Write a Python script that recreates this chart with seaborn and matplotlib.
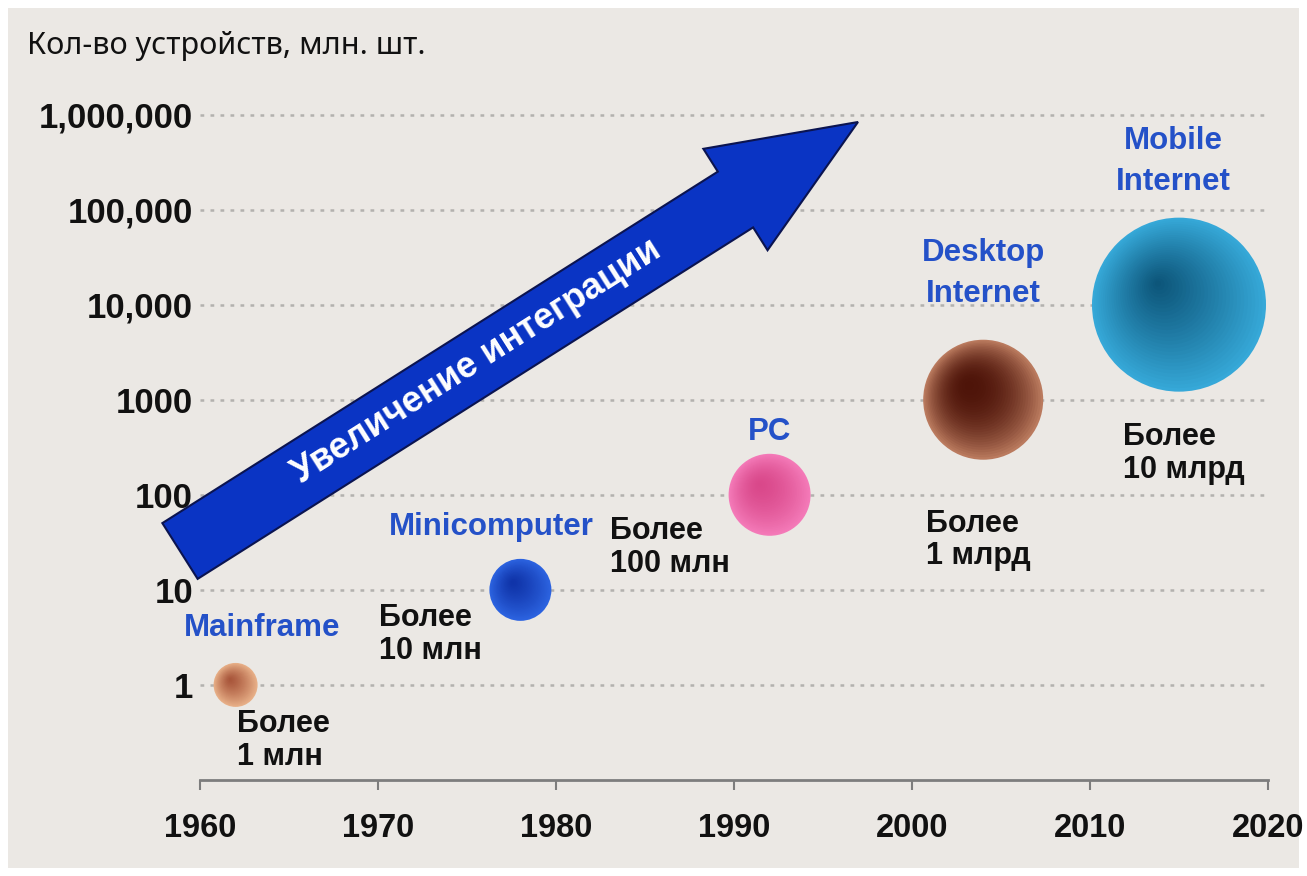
import numpy as np
import matplotlib
matplotlib.use("Agg")
import matplotlib.pyplot as plt
import matplotlib.transforms as mtransforms
from matplotlib.patches import Rectangle, Polygon
import seaborn as sns

# --- data ---
platforms = ["Mainframe", "Minicomputer", "PC", "Desktop\nInternet", "Mobile\nInternet"]
years = [1962, 1978, 1992, 2004, 2015]
devices_mln = [1, 10, 100, 1000, 10000]
notes = ["Более\n1 млн", "Более\n10 млн", "Более\n100 млн", "Более\n1 млрд", "Более\n10 млрд"]

x_ticks = [1960, 1970, 1980, 1990, 2000, 2010, 2020]
y_ticks = [1, 10, 100, 1000, 10000, 100000, 1000000]
y_tick_labels = ["1", "10", "100", "1000", "10,000", "100,000", "1,000,000"]

title = "Кол-во устройств, млн. шт."
arrow_text = "Увеличение интеграции"

# --- styles ---
bubble_radius_px = [22, 31, 41, 60, 87]
bubble_inner = ["#a8553a", "#0f33a8", "#d9488a", "#4e1409", "#0c5478"]
bubble_outer = ["#e8b088", "#2c63e0", "#f47ab8", "#ba7a5e", "#36a8d8"]
bubble_gamma = [1.3, 1.3, 1.6, 2.2, 1.1]
# label offsets from the bubble centre, in points
name_offsets = [(19, 41), (-21, 45), (0, 45), (0, 91), (-4, 103)]
note_offsets = [(1, -40), (-102, -32), (-115, -38), (-41, -101), (-40, -107)]
# only the top label sits on gridlines and hides them
name_boxed = [False, False, False, False, True]

W, H = 1307, 876
DPI = 100
BG = "#ebe8e4"
LABEL_BLUE = "#2451c8"

sns.set_theme(style="white")
plt.rcParams["font.family"] = ["Liberation Sans", "DejaVu Sans"]

fig = plt.figure(figsize=(W / DPI, H / DPI), dpi=DPI)
fig.patch.set_facecolor("white")
fig.add_artist(Rectangle((8 / W, 8 / H), (W - 16) / W, (H - 16) / H,
                         transform=fig.transFigure, facecolor=BG,
                         edgecolor="none", zorder=-1))

ax = fig.add_axes([200 / W, 1 - 780 / H, 1068 / W, (780 - 86) / H])
ax.set_facecolor("none")
ax.set_yscale("log")
ax.set_xlim(1960, 2020)
ax.set_ylim(0.1, 10 ** 6.3)

# dotted horizontal grid
ax.grid(False)
for yv in y_ticks:
    ax.axhline(yv, color="#b3b1ae", linestyle=(0, (1.5, 2.5)), linewidth=1.8, zorder=1)

# bubbles: stacked circles give a radial gradient, darker spot up-left
n_layers = 30
for i in range(len(years)):
    c_in = np.array(matplotlib.colors.to_rgb(bubble_inner[i]))
    c_out = np.array(matplotlib.colors.to_rgb(bubble_outer[i]))
    r = bubble_radius_px[i]
    for k in range(n_layers):
        f = 1 - k / n_layers
        col = c_in + (c_out - c_in) * (f ** bubble_gamma[i])
        shift = (1 - f) * r * 0.25
        tr = mtransforms.offset_copy(ax.transData, fig=fig, x=-shift, y=shift, units="dots")
        s = (2 * r * f * 72 / DPI) ** 2
        sns.scatterplot(x=[years[i]], y=[devices_mln[i]], s=s, color=col,
                        edgecolor="none", linewidth=0, ax=ax, zorder=3,
                        transform=tr, legend=False)

# labels
for i in range(len(years)):
    box = None
    if name_boxed[i]:
        box = dict(boxstyle="square,pad=0.3", facecolor=BG, edgecolor="none")
    ax.annotate(platforms[i], (years[i], devices_mln[i]), xytext=name_offsets[i],
                textcoords="offset points", ha="center", va="center",
                fontsize=22.5, fontweight="bold", color=LABEL_BLUE,
                linespacing=1.45, zorder=5, bbox=box)
    ax.annotate(notes[i], (years[i], devices_mln[i]), xytext=note_offsets[i],
                textcoords="offset points", ha="left", va="center",
                fontsize=22, fontweight="bold", color="#111111",
                linespacing=1.12, zorder=5)

# axes styling
for side in ["left", "top", "right"]:
    ax.spines[side].set_visible(False)
ax.spines["bottom"].set_color("#7d7d7d")
ax.spines["bottom"].set_linewidth(2)

ax.set_xticks(x_ticks)
ax.set_xticklabels([str(x) for x in x_ticks])
ax.set_yticks(y_ticks)
ax.set_yticklabels(y_tick_labels)
ax.yaxis.set_minor_locator(matplotlib.ticker.NullLocator())
ax.tick_params(axis="x", direction="out", length=7, width=1.5, color="#7d7d7d",
               pad=17, labelsize=23.5, bottom=True)
ax.tick_params(axis="y", length=0, pad=5, labelsize=25)
for lab in ax.get_xticklabels() + ax.get_yticklabels():
    lab.set_fontweight("bold")
    lab.set_color("#111111")
ax.set_xlabel("")
ax.set_ylabel("")

# title
fig.text(27 / W, 1 - 46 / H, title, fontsize=22, color="#111111",
         ha="left", va="center", family=["Noto Sans", "DejaVu Sans"])

# big blue arrow (decoration, figure pixel space)
tail = np.array([180.0, 551.0])
tip = np.array([858.0, 122.0])
u = (tip - tail) / np.linalg.norm(tip - tail)
n = np.array([-u[1], u[0]])
shaft_hw, head_hw, head_len = 33, 60, 145
base = tip - head_len * u
pts = [tail - shaft_hw * n, base - shaft_hw * n, base - head_hw * n, tip,
       base + head_hw * n, base + shaft_hw * n, tail + shaft_hw * n]
pts = [(p[0] / W, 1 - p[1] / H) for p in pts]
fig.add_artist(Polygon(pts, closed=True, transform=fig.transFigure,
                       facecolor="#0a34c4", edgecolor="#0b1450",
                       linewidth=1.5, zorder=5))
angle = np.degrees(np.arctan2(-(tip[1] - tail[1]), tip[0] - tail[0]))
mid = tail + 352 * u - 2 * n
fig.text(mid[0] / W, 1 - mid[1] / H, arrow_text, rotation=angle,
         rotation_mode="anchor", ha="center", va="center", color="white",
         fontsize=26, fontweight="bold", zorder=6)

fig.savefig("out.png", dpi=DPI, facecolor=fig.get_facecolor())
